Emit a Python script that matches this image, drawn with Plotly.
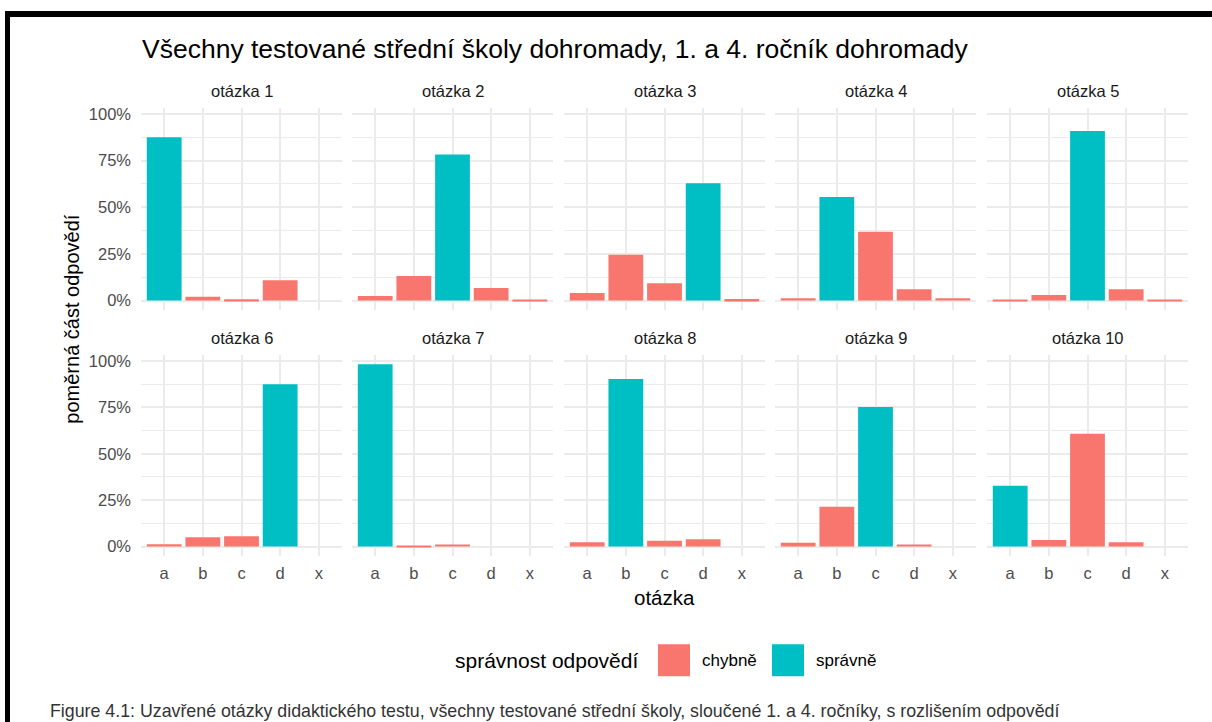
import plotly.graph_objects as go

W, H = 1212, 722

# data: share of answers per option, correct option per question
otazky = [f"otázka {i}" for i in range(1, 11)]
moznosti = ["a", "b", "c", "d", "x"]
spravne = ["a", "c", "d", "b", "c", "d", "a", "b", "c", "a"]
podil = [
    [0.875, 0.021, 0.007, 0.109, None],
    [0.024, 0.132, 0.783, 0.068, 0.005],
    [0.041, 0.245, 0.093, 0.629, 0.009],
    [0.013, 0.555, 0.369, 0.060, 0.013],
    [0.006, 0.030, 0.908, 0.060, 0.006],
    [0.012, 0.050, 0.055, 0.874, None],
    [0.982, 0.005, 0.011, None, None],
    [0.023, 0.902, 0.032, 0.039, None],
    [0.020, 0.215, 0.751, 0.011, None],
    [0.327, 0.036, 0.607, 0.023, None],
]
y_ticks = [0, 0.25, 0.5, 0.75, 1.0]
y_labels = ["0%", "25%", "50%", "75%", "100%"]

RED = "#F8766D"
TEAL = "#00BFC4"
GRID = "#EBEBEB"
FONT = "Liberation Sans, Arial, sans-serif"


def px(x):
    return x / W


def py(y):
    return 1 - y / H


def label(text, x, y, size, color="black", xanchor="center", **kw):
    return dict(text=text, x=px(x), y=py(y), xref="paper", yref="paper",
                xanchor=xanchor, yanchor="middle", showarrow=False,
                font=dict(size=size, color=color, family=FONT), **kw)


col_left = [141, 352, 564, 775, 987]
col_w = 201
rows = [(105, 308), (353, 555)]

fig = go.Figure()
layout = {}
annotations = []

for i, vals in enumerate(podil):
    r, c = divmod(i, 5)
    n = "" if i == 0 else str(i + 1)
    wrong = [v if m != spravne[i] else None for m, v in zip(moznosti, vals)]
    right = [v if m == spravne[i] else None for m, v in zip(moznosti, vals)]
    for ys, name, color in [(wrong, "chybně", RED), (right, "správně", TEAL)]:
        fig.add_trace(go.Bar(
            x=moznosti, y=ys, name=name, marker_color=color,
            marker_line_width=0, width=0.9, showlegend=False,
            xaxis="x" + n, yaxis="y" + n,
        ))

    top, bot = rows[r]
    layout["xaxis" + n] = dict(
        domain=[px(col_left[c]), px(col_left[c] + col_w)],
        anchor="y" + n, type="category", categoryorder="array",
        categoryarray=moznosti, range=[-0.6, 4.6],
        showgrid=True, gridcolor=GRID, gridwidth=1.5, zeroline=False,
        showticklabels=(r == 1), ticks="", ticklabelstandoff=6,
        tickfont=dict(size=16.5, color="#4D4D4D", family=FONT),
        fixedrange=True,
    )
    layout["yaxis" + n] = dict(
        domain=[py(bot), py(top)], anchor="x" + n,
        range=[-0.049, 1.034], tickvals=y_ticks, ticktext=y_labels,
        showgrid=True, gridcolor=GRID, gridwidth=1.5, zeroline=False,
        minor=dict(tickvals=[0.125, 0.375, 0.625, 0.875], showgrid=True,
                   gridcolor=GRID, gridwidth=0.8, ticks=""),
        showticklabels=(c == 0), ticks="", ticklabelstandoff=9,
        tickfont=dict(size=16.5, color="#4D4D4D", family=FONT),
        fixedrange=True,
    )
    annotations.append(label(otazky[i], col_left[c] + col_w / 2, top - 17,
                             16.5, "#1A1A1A"))

# titles, legend, caption
annotations += [
    label("Všechny testované střední školy dohromady, 1. a 4. ročník dohromady",
          140, 46, 26.5, xanchor="left"),
    label("poměrná část odpovědí", 72, 318, 20, textangle=-90),
    label("otázka", 664, 597, 20.5),
    label("správnost odpovědí", 640, 660, 21, xanchor="right"),
    label("chybně", 700, 660, 17, xanchor="left"),
    label("správně", 814, 660, 17, xanchor="left"),
    label("Figure 4.1: Uzavřené otázky didaktického testu, všechny testované "
          "střední školy, sloučené 1. a 4. ročníky, s rozlišením odpovědí",
          48, 711, 17.8, "#333333", xanchor="left"),
]

shapes = [
    # legend keys
    dict(type="rect", xref="paper", yref="paper", x0=px(658), x1=px(690),
         y0=py(676), y1=py(644), fillcolor=RED, line_width=0),
    dict(type="rect", xref="paper", yref="paper", x0=px(772), x1=px(804),
         y0=py(676), y1=py(644), fillcolor=TEAL, line_width=0),
    # page frame
    dict(type="rect", xref="paper", yref="paper", x0=px(5), x1=px(W + 5),
         y0=py(8), y1=py(14), fillcolor="black", line_width=0),
    dict(type="rect", xref="paper", yref="paper", x0=px(5), x1=px(10),
         y0=py(8), y1=py(H + 5), fillcolor="black", line_width=0),
]

fig.update_layout(
    **layout,
    annotations=annotations,
    shapes=shapes,
    barmode="overlay",
    width=W, height=H,
    margin=dict(l=0, r=0, t=0, b=0),
    paper_bgcolor="white", plot_bgcolor="white",
    font=dict(family=FONT),
    showlegend=False,
)

fig.write_html("out.html", config={"displayModeBar": False},
               post_script="document.body.style.margin='0px';")
